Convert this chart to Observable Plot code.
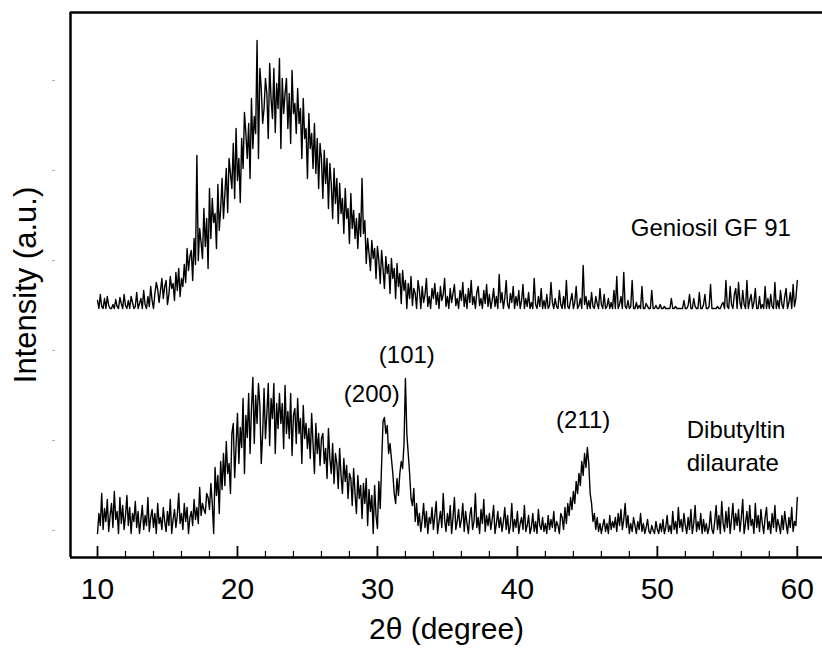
<!DOCTYPE html>
<html>
<head>
<meta charset="utf-8">
<script src="https://cdn.jsdelivr.net/npm/d3@7"></script>
<script src="https://cdn.jsdelivr.net/npm/@observablehq/plot@0.6"></script>
<style>
  html, body { margin: 0; padding: 0; background: #fff; }
  #chart svg { font-family: "Liberation Sans", Arial, Helvetica, sans-serif; }
</style>
</head>
<body>
<div id="chart"></div>
<script>
// 2θ grid: first and last angle of the scans (0.1° steps)
const twoThetaStart = 10;
const twoThetaEnd = 60;

// Geniosil GF 91 intensity (a.u.), 10.0° … 60.0°
const geniosil = [
  8,0,14,2,0,10,0,12,3,0,
  0,4,0,9,2,0,11,5,0,14,
  3,0,8,0,12,6,0,2,16,0,
  5,10,0,18,4,0,12,2,22,8,
  0,15,26,19,6,18,30,10,22,28,
  4,14,32,20,25,8,36,18,40,12,
  30,22,44,26,60,38,52,58,28,70,
  44,153,48,80,66,50,100,62,90,40,
  120,70,110,86,95,60,124,78,100,130,
  90,115,140,96,150,135,120,165,110,180,
  128,150,106,170,140,196,175,150,185,130,
  210,160,192,175,268,150,240,220,185,200,
  230,215,170,245,210,190,240,176,225,200,
  250,160,230,195,215,230,180,215,165,238,
  195,205,175,220,185,200,150,210,170,180,
  130,195,160,175,140,185,135,170,120,165,
  150,110,158,125,150,100,145,125,90,140,
  105,130,85,125,95,110,75,120,90,100,
  65,115,80,98,70,90,60,95,72,130,
  75,88,45,70,55,38,68,50,60,30,
  62,48,25,58,40,20,52,35,44,15,
  50,30,40,10,45,22,35,5,38,18,
  28,0,25,10,32,3,20,15,0,28,
  18,0,22,6,14,30,2,12,0,20,
  10,25,4,16,0,22,8,14,30,2,
  12,0,20,6,15,24,3,10,0,18,
  8,26,2,14,0,20,6,28,4,12,
  0,16,22,3,10,0,18,5,24,2,
  14,0,8,20,2,12,0,34,6,16,
  0,10,28,4,0,15,6,22,0,12,
  3,18,0,8,24,0,10,2,16,0,
  6,0,30,4,0,12,2,20,0,8,
  0,14,0,3,26,6,0,10,2,0,
  18,4,0,12,0,28,2,0,8,15,
  0,6,22,0,3,10,0,43,4,12,
  0,8,0,16,2,0,12,5,0,20,
  4,0,14,0,2,10,0,6,0,18,
  0,32,0,4,12,0,36,2,0,8,
  0,2,28,0,0,6,0,3,0,22,
  0,0,5,2,0,0,18,0,0,3,
  0,0,4,0,0,2,0,0,0,0,
  10,0,0,2,0,0,0,0,0,8,
  0,0,3,14,0,0,10,2,0,0,
  16,0,0,4,14,0,0,2,24,0,
  0,0,0,2,0,0,4,6,0,28,
  2,0,22,4,0,14,20,0,26,6,
  0,18,4,0,28,0,8,14,0,6,
  20,0,0,12,0,4,0,22,0,10,
  0,14,2,0,26,0,8,0,18,4,
  0,12,20,0,6,16,0,24,2,10,
  28
];

// Dibutyltin dilaurate intensity (a.u.), 10.0° … 60.0°
const dibutyltin = [
  0,20,8,40,4,25,12,34,2,18,
  30,6,42,14,22,0,36,10,28,4,
  18,38,8,26,0,20,12,32,6,22,
  0,14,28,4,18,8,36,2,16,24,
  6,20,0,30,10,16,4,26,12,2,
  22,8,34,0,14,24,6,18,40,10,
  20,4,30,12,26,0,16,22,8,34,
  14,26,10,46,18,30,24,20,40,36,
  24,50,30,0,66,38,58,20,72,44,
  80,48,92,60,70,40,100,110,56,88,
  120,70,106,86,135,60,118,96,140,80,
  125,156,90,138,110,150,128,70,100,145,
  95,120,150,88,135,115,150,80,130,105,
  140,110,130,85,148,100,122,95,140,78,
  118,125,90,135,100,115,70,128,95,110,
  85,105,75,120,90,60,110,80,100,68,
  95,100,70,85,55,105,75,60,90,50,
  80,70,45,85,58,40,75,52,68,35,
  60,55,28,65,40,20,58,35,48,15,
  50,30,55,8,44,22,38,0,48,18,
  5,52,25,70,112,116,100,108,80,90,
  75,60,40,30,55,38,60,72,65,90,
  155,100,80,60,35,28,45,12,30,8,
  20,2,14,30,6,22,0,16,10,26,
  4,18,32,0,12,22,6,40,14,2,
  20,8,28,0,16,36,4,12,24,6,
  14,30,2,22,10,0,18,26,4,12,
  40,6,16,0,24,10,34,2,18,8,
  20,4,14,28,0,10,22,6,16,2,
  12,26,4,18,0,8,30,2,14,6,
  22,0,10,16,4,28,2,8,18,0,
  6,20,2,12,0,24,8,4,16,2,
  10,0,18,4,14,6,22,2,12,8,
  0,20,16,4,26,10,30,18,36,24,
  42,30,52,40,60,48,72,58,80,66,
  86,70,40,30,12,20,4,16,2,10,
  0,8,14,2,10,0,18,4,12,6,
  16,2,20,8,24,4,14,30,6,18,
  0,10,2,16,8,0,12,4,20,2,
  10,0,6,14,2,0,8,3,0,12,
  4,0,10,2,14,0,6,18,2,8,
  0,22,4,12,0,26,6,14,2,20,
  8,0,16,4,24,0,10,28,2,12,
  4,20,0,14,2,10,0,6,22,4,
  0,12,28,4,18,0,32,10,2,22,
  6,26,0,14,30,4,20,8,24,2,
  16,34,0,10,22,4,28,8,14,0,
  30,6,18,2,24,10,0,16,26,4,
  12,0,20,6,28,2,14,8,0,18,
  4,22,10,0,16,6,26,2,12,8,
  36
];

// vertical stacking offsets of the two patterns (a.u.)
const geniosilOffset = 222;
const dibutyltinOffset = -3;

// axis ticks
const xMajorTicks = [10, 20, 30, 40, 50, 60];
const xMinorTicks = [12, 14, 16, 18, 22, 24, 26, 28, 32, 34, 36, 38, 42, 44, 46, 48, 52, 54, 56, 58];
const yTicks = [0, 90, 180, 270, 360, 450];

// peak / sample annotations
const peakLabels = [
  {text: "(200)", x: 29.6, y: 136},
  {text: "(101)", x: 32.1, y: 175},
  {text: "(211)", x: 44.7, y: 110}
];
const sampleLabels = [
  {text: "Geniosil GF 91", x: 48.1, y: 305},
  {text: "Dibutyltin\ndilaurate", x: 52.1, y: 87}
];

const xDomain = [8.07, 61.8];
const yDomain = [-27, 518];

function toRows(values, offset, name) {
  const step = (twoThetaEnd - twoThetaStart) / (values.length - 1);
  return values.map((v, i) => ({x: twoThetaStart + i * step, y: v + offset, series: name}));
}
const rowsG = toRows(geniosil, geniosilOffset, "Geniosil GF 91");
const rowsD = toRows(dibutyltin, dibutyltinOffset, "Dibutyltin dilaurate");

const plotH = 650, mTop = 12, mBottom = 93;
const innerH = plotH - mTop - mBottom;

const chart = Plot.plot({
  width: 822,
  height: plotH,
  marginLeft: 70,
  marginRight: 0,
  marginTop: mTop,
  marginBottom: mBottom,
  x: {domain: xDomain},
  y: {domain: yDomain},
  marks: [
    Plot.axisY({ticks: yTicks, tickSize: 3, tickFormat: () => "", dx: -15, stroke: "#b0b0b0", label: null}),
    Plot.axisX({ticks: xMajorTicks, tickSize: 0, tickPadding: 20, fontSize: 30, label: null, fill: "#000"}),
    Plot.line(rowsG, {x: "x", y: "y", stroke: "#000", strokeWidth: 1.4}),
    Plot.line(rowsD, {x: "x", y: "y", stroke: "#000", strokeWidth: 1.4}),
    Plot.ruleX(xMajorTicks, {x: d => d, insetTop: innerH - 11, stroke: "#000", strokeWidth: 1.8}),
    Plot.ruleX(xMinorTicks, {x: d => d, insetTop: innerH - 6, stroke: "#000", strokeWidth: 1.2}),
    Plot.ruleX([xDomain[0]], {stroke: "#000", strokeWidth: 2.5}),
    Plot.ruleY([yDomain[0], yDomain[1]], {stroke: "#000", strokeWidth: 2.5}),
    Plot.text(peakLabels, {x: "x", y: "y", text: "text", fontSize: 24, fill: "#000"}),
    Plot.text(sampleLabels, {x: "x", y: "y", text: "text", fontSize: 24, textAnchor: "start", lineHeight: 1.38, fill: "#000"}),
    Plot.text(["2θ (degree)"], {frameAnchor: "bottom", dy: 81, fontSize: 30, fill: "#000"}),
    Plot.text(["Intensity (a.u.)"], {frameAnchor: "left", dx: -44, rotate: -90, textAnchor: "middle", fontSize: 31, fill: "#000"})
  ]
});
document.getElementById("chart").appendChild(chart);
</script>
</body>
</html>
